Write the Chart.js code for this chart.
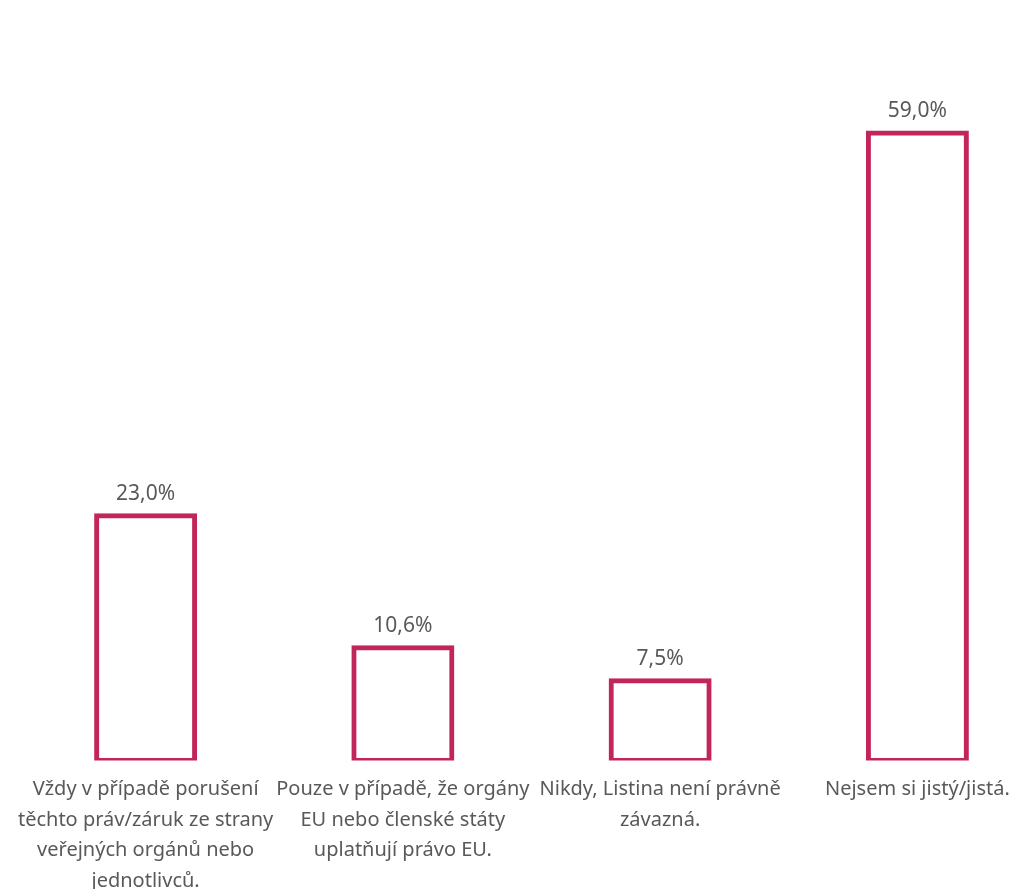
<!DOCTYPE html>
<html lang="cs">
<head>
    <meta charset="UTF-8">
    <title>Graf</title>
    <script src="https://cdn.jsdelivr.net/npm/chart.js"></script>
    <style>
        html, body {
            margin: 0;
            padding: 0;
            background: #ffffff;
            overflow: hidden;
        }
        #wrap {
            position: relative;
            width: 1063px;
            height: 910px;
        }
    </style>
</head>
<body>
    <div id="wrap"><canvas id="chart"></canvas></div>
    <script>
        // kategorie (rozdělené na řádky jako v originále)
        const categories = [
            ["Vždy v případě porušení", "těchto práv/záruk ze strany", "veřejných orgánů nebo", "jednotlivců."],
            ["Pouze v případě, že orgány", "EU nebo členské státy", "uplatňují právo EU."],
            ["Nikdy, Listina není právně", "závazná."],
            ["Nejsem si jistý/jistá."]
        ];
        const values = [23.0, 10.6, 7.5, 59.0];
        const valueLabels = ["23,0%", "10,6%", "7,5%", "59,0%"];

        const barColor = "#C2255C";
        const textColor = "#595959";
        const fontFamily = "'Noto Sans', 'Liberation Sans', sans-serif";

        // popisky hodnot nad sloupci
        const valueLabelPlugin = {
            id: "valueLabels",
            afterDatasetsDraw(chart) {
                const ctx = chart.ctx;
                const meta = chart.getDatasetMeta(0);
                ctx.save();
                ctx.font = "21px " + fontFamily;
                ctx.fillStyle = textColor;
                ctx.textAlign = "center";
                ctx.textBaseline = "middle";
                meta.data.forEach((bar, i) => {
                    ctx.fillText(valueLabels[i], bar.x, bar.y - 22);
                });
                ctx.restore();
            }
        };

        const ctx = document.getElementById("chart").getContext("2d");
        new Chart(ctx, {
            type: "bar",
            data: {
                labels: categories,
                datasets: [{
                    data: values,
                    backgroundColor: "#ffffff",
                    borderColor: barColor,
                    borderWidth: 5,
                    borderSkipped: false,
                    inflateAmount: 2.5,
                    barPercentage: 0.381,
                    categoryPercentage: 1.0
                }]
            },
            options: {
                responsive: true,
                maintainAspectRatio: false,
                animation: false,
                layout: {
                    padding: { left: 17, right: 17, top: 0, bottom: 0 }
                },
                plugins: {
                    legend: { display: false },
                    tooltip: { enabled: false }
                },
                scales: {
                    x: {
                        grid: { display: false, drawTicks: false },
                        border: { display: false },
                        ticks: {
                            autoSkip: false,
                            maxRotation: 0,
                            padding: 14,
                            color: textColor,
                            font: { family: fontFamily, size: 20, lineHeight: 1.52 }
                        }
                    },
                    y: {
                        display: false,
                        min: 0,
                        max: 71.5
                    }
                }
            },
            plugins: [valueLabelPlugin]
        });
    </script>
</body>
</html>
